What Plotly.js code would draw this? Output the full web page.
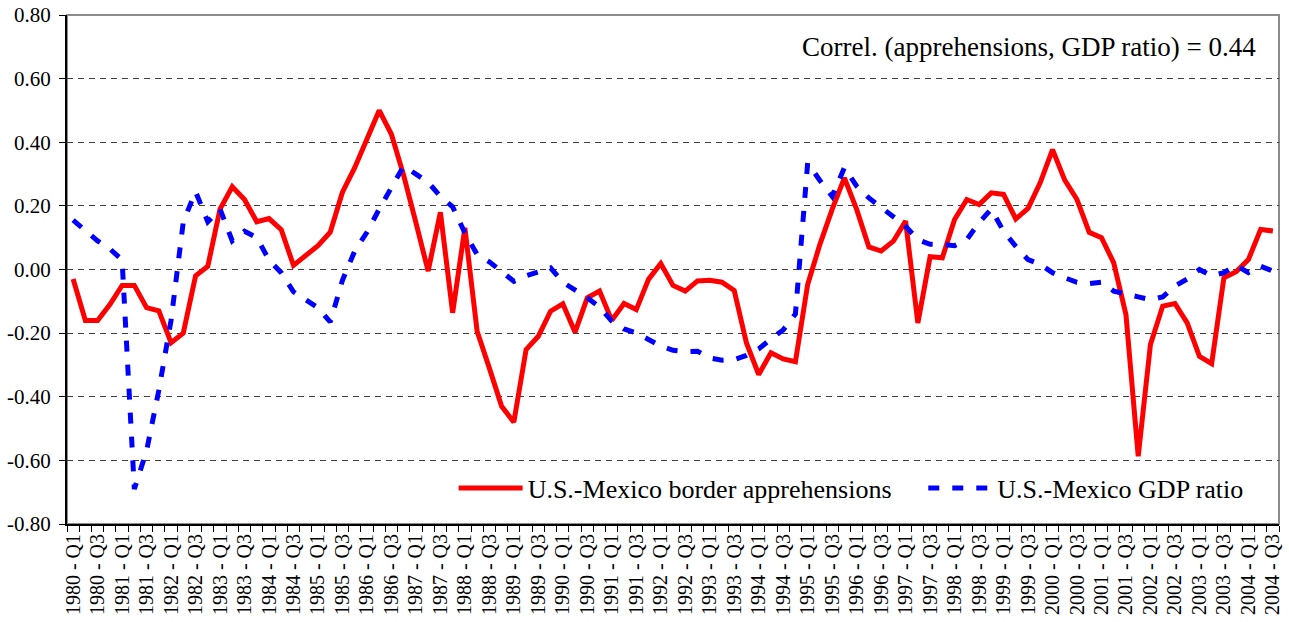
<!DOCTYPE html>
<html>
<head>
<meta charset="utf-8">
<script src="https://cdn.plot.ly/plotly-3.0.1.min.js"></script>
<style>html,body{margin:0;padding:0;background:#fff;}#chart{width:1289px;height:622px;}</style>
</head>
<body>
<div id="chart"></div>
<script>
// Quarter categories 1980 Q1 .. 2004 Q3
const categories = [
"1980 - Q1","1980 - Q2","1980 - Q3","1980 - Q4",
"1981 - Q1","1981 - Q2","1981 - Q3","1981 - Q4",
"1982 - Q1","1982 - Q2","1982 - Q3","1982 - Q4",
"1983 - Q1","1983 - Q2","1983 - Q3","1983 - Q4",
"1984 - Q1","1984 - Q2","1984 - Q3","1984 - Q4",
"1985 - Q1","1985 - Q2","1985 - Q3","1985 - Q4",
"1986 - Q1","1986 - Q2","1986 - Q3","1986 - Q4",
"1987 - Q1","1987 - Q2","1987 - Q3","1987 - Q4",
"1988 - Q1","1988 - Q2","1988 - Q3","1988 - Q4",
"1989 - Q1","1989 - Q2","1989 - Q3","1989 - Q4",
"1990 - Q1","1990 - Q2","1990 - Q3","1990 - Q4",
"1991 - Q1","1991 - Q2","1991 - Q3","1991 - Q4",
"1992 - Q1","1992 - Q2","1992 - Q3","1992 - Q4",
"1993 - Q1","1993 - Q2","1993 - Q3","1993 - Q4",
"1994 - Q1","1994 - Q2","1994 - Q3","1994 - Q4",
"1995 - Q1","1995 - Q2","1995 - Q3","1995 - Q4",
"1996 - Q1","1996 - Q2","1996 - Q3","1996 - Q4",
"1997 - Q1","1997 - Q2","1997 - Q3","1997 - Q4",
"1998 - Q1","1998 - Q2","1998 - Q3","1998 - Q4",
"1999 - Q1","1999 - Q2","1999 - Q3","1999 - Q4",
"2000 - Q1","2000 - Q2","2000 - Q3","2000 - Q4",
"2001 - Q1","2001 - Q2","2001 - Q3","2001 - Q4",
"2002 - Q1","2002 - Q2","2002 - Q3","2002 - Q4",
"2003 - Q1","2003 - Q2","2003 - Q3","2003 - Q4",
"2004 - Q1","2004 - Q2","2004 - Q3"
];

// U.S.-Mexico border apprehensions (red, solid)
const apprehensions = [
-0.03,-0.16,-0.16,-0.11,-0.05,-0.05,-0.12,-0.13,-0.23,-0.20,
-0.02,0.01,0.19,0.26,0.22,0.15,0.16,0.125,0.013,0.042,
0.075,0.117,0.243,0.32,0.414,0.50,0.425,0.296,0.147,-0.005,
0.18,-0.136,0.131,-0.194,-0.31,-0.43,-0.48,-0.252,-0.21,-0.131,
-0.108,-0.197,-0.089,-0.068,-0.16,-0.107,-0.126,-0.031,0.019,-0.05,
-0.068,-0.036,-0.034,-0.04,-0.066,-0.231,-0.33,-0.262,-0.281,-0.29,
-0.047,0.079,0.189,0.288,0.189,0.071,0.058,0.089,0.152,-0.168,
0.04,0.037,0.157,0.22,0.204,0.241,0.236,0.159,0.192,0.273,
0.377,0.281,0.22,0.117,0.10,0.021,-0.142,-0.587,-0.236,-0.115,
-0.107,-0.168,-0.273,-0.296,-0.026,-0.007,0.031,0.126,0.121
];

// U.S.-Mexico GDP ratio (blue, dashed)
const gdpRatio = [
0.155,0.12,0.09,0.065,0.03,-0.69,-0.57,-0.38,-0.16,0.15,
0.245,0.15,0.19,0.09,0.12,0.10,0.03,-0.01,-0.07,-0.095,
-0.12,-0.165,-0.034,0.058,0.117,0.19,0.26,0.325,0.30,0.274,
0.23,0.197,0.115,0.047,0.024,-0.006,-0.037,-0.02,-0.006,0.005,
-0.04,-0.063,-0.089,-0.118,-0.162,-0.187,-0.20,-0.22,-0.241,-0.254,
-0.258,-0.257,-0.278,-0.285,-0.283,-0.27,-0.25,-0.218,-0.19,-0.14,
0.335,0.28,0.23,0.32,0.262,0.225,0.194,0.162,0.136,0.094,
0.079,0.079,0.075,0.094,0.147,0.19,0.12,0.073,0.031,0.016,
-0.01,-0.026,-0.04,-0.044,-0.04,-0.068,-0.079,-0.086,-0.095,-0.086,
-0.052,-0.03,0.0,-0.02,-0.01,0.013,-0.01,0.01,-0.005
];

const yTickVals = [-0.8,-0.6,-0.4,-0.2,0,0.2,0.4,0.6,0.8];
const yTickText = ["-0.80","-0.60","-0.40","-0.20","0.00","0.20","0.40","0.60","0.80"];

const seriesNames = ["U.S.-Mexico border apprehensions","U.S.-Mexico GDP ratio"];
const correlText = "Correl. (apprehensions, GDP ratio) = 0.44";

const xIdx = categories.map((c, i) => i);
const labelIdx = xIdx.filter(i => categories[i].endsWith("Q1") || categories[i].endsWith("Q3"));
const labelText = labelIdx.map(i => categories[i]);

const FONT = 'Liberation Serif';

const traces = [
  {
    x: xIdx, y: apprehensions, text: categories, name: seriesNames[0],
    type: 'scatter', mode: 'lines', legend: 'legend',
    line: {color: '#FF0000', width: 5},
    hovertemplate: '%{text}: %{y:.2f}<extra></extra>'
  },
  {
    x: xIdx, y: gdpRatio, text: categories, name: seriesNames[1],
    type: 'scatter', mode: 'lines', legend: 'legend2',
    line: {color: '#0000FF', width: 5, dash: '11px,13px'},
    hovertemplate: '%{text}: %{y:.2f}<extra></extra>'
  }
];

const legendCommon = {
  orientation: 'h', xanchor: 'left', yanchor: 'middle',
  bgcolor: 'rgba(0,0,0,0)', borderwidth: 0,
  font: {family: FONT, size: 26, color: '#000'},
  itemwidth: 64
};

const layout = {
  width: 1289, height: 622,
  margin: {l: 67, r: 10, t: 15, b: 98, pad: 0},
  paper_bgcolor: '#fff', plot_bgcolor: '#fff',
  font: {family: FONT, color: '#000', size: 20},
  showlegend: true,
  legend: Object.assign({}, legendCommon, {x: 0.319, y: 0.0707}),
  legend2: Object.assign({}, legendCommon, {x: 0.7065, y: 0.0707}),
  xaxis: {
    range: [-0.5, categories.length - 0.5],
    tickmode: 'array', tickvals: labelIdx, ticktext: labelText,
    tickangle: -90, ticks: '', showgrid: false, zeroline: false,
    showline: true, linecolor: '#000', linewidth: 2,
    tickfont: {family: FONT, size: 20, color: '#000'},
    minor: {tickmode: 'linear', tick0: -0.5, dtick: 1, ticks: 'outside', ticklen: 6, tickwidth: 1, tickcolor: '#000', showgrid: false},
    fixedrange: true
  },
  yaxis: {
    range: [-0.8, 0.8],
    tickmode: 'array', tickvals: yTickVals, ticktext: yTickText,
    ticks: 'outside', ticklen: 6, tickwidth: 1, tickcolor: '#000',
    showline: true, linecolor: '#000', linewidth: 2,
    showgrid: true, gridcolor: '#404040', gridwidth: 1, griddash: '6px,5px',
    zeroline: false,
    tickfont: {family: FONT, size: 21, color: '#000'},
    ticklabelstandoff: 4,
    fixedrange: true
  },
  shapes: [
    {type: 'rect', xref: 'paper', yref: 'paper', x0: 0, x1: 1, y0: 0, y1: 1,
     line: {color: '#8c8c8c', width: 2}, layer: 'below'}
  ],
  annotations: [
    {xref: 'paper', yref: 'paper', x: 0.9827, y: 0.938, xanchor: 'right', yanchor: 'middle',
     text: correlText, showarrow: false, font: {family: FONT, size: 27, color: '#000'}}
  ]
};

Plotly.newPlot('chart', traces, layout, {displayModeBar: false, staticPlot: true});
</script>
</body>
</html>
